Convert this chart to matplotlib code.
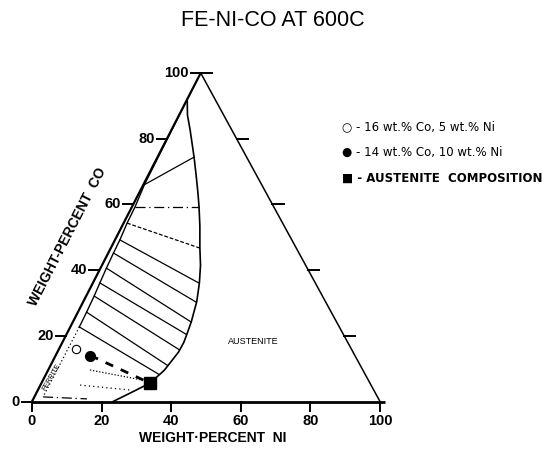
import matplotlib
matplotlib.use("Agg")
import matplotlib.pyplot as plt
import numpy as np

# ---------------- data (wt% Ni, wt% Co) ----------------
title = "FE-NI-CO AT 600C"
tick_values = [0, 20, 40, 60, 80, 100]
right_tick_values = [20, 40, 60, 80, 100]

# austenite (gamma) phase boundary
gamma_ni = [23.3, 27.0, 31.2, 33.4, 34.8, 34.9, 34.5, 34.0, 32.6, 30.6, 28.3, 25.6,
            22.3, 19.3, 16.9, 13.7, 10.5, 5.4, 2.4, 0.0]
gamma_co = [0.0, 2.6, 5.6, 9.5, 15.0, 18.0, 21.0, 24.3, 30.4, 36.1, 41.5, 46.7,
            53.5, 59.2, 63.5, 69.0, 74.4, 82.6, 87.2, 92.0]

# ferrite (alpha) boundary, solid part and dotted part
alpha_ni = [0.0, 0.3, 0.9, 1.0, 1.4, 1.5, 1.7, 2.0, 2.3, 2.5, 2.6]
alpha_co = [92.0, 66.0, 59.2, 54.3, 49.2, 45.2, 40.6, 36.1, 32.1, 27.2, 22.7]
alpha_dot_ni = [2.6, 2.5]
alpha_dot_co = [22.7, 1.4]

# tie lines: alpha end -> gamma end
tie_a_ni = [0.3, 0.9, 1.0, 1.4, 1.5, 1.7, 2.0, 2.3, 2.5, 2.6]
tie_a_co = [66.0, 59.2, 54.3, 49.2, 45.2, 40.6, 36.1, 32.1, 27.2, 22.7]
tie_g_ni = [10.5, 19.3, 25.6, 30.4, 32.4, 34.0, 34.3, 34.8, 33.4, 32.4]
tie_g_co = [74.4, 59.2, 46.7, 36.1, 30.3, 24.2, 20.5, 15.7, 11.1, 8.3]

# short dotted / dash-dot tie lines near Fe corner
low_a_ni = [12.0, 11.4, 2.5]
low_a_co = [9.6, 5.0, 1.4]
low_g_ni = [28.7, 26.5, 15.4]
low_g_co = [6.5, 3.5, 0.8]

# alloys
open_ni, open_co = [5.0], [16.0]
fill_ni, fill_co = [10.0], [14.0]
aust_ni, aust_co = [31.2], [5.6]

legend_texts = ["\u25cb - 16 wt.% Co, 5 wt.% Ni",
                "\u25cf - 14 wt.% Co, 10 wt.% Ni",
                "\u25a0 - AUSTENITE  COMPOSITION"]

# ---------------- drawing ----------------
SKEW = 0.4848  # apex offset of this (non-equilateral) drawing


def xy(ni, co):
    ni = np.asarray(ni, float)
    co = np.asarray(co, float)
    return ni + SKEW * co, co


fig = plt.figure(figsize=(5.42, 4.5), dpi=100)
ax = fig.add_axes([0, 0, 1, 1])
ax.set_xlim(-9.195, 146.55)
ax.set_ylim(-14.76, 122.22)
ax.axis("off")

K = "black"
num_font = dict(family=["Liberation Sans", "DejaVu Sans"], fontweight="bold", fontsize=10.5, color=K)
lab_font = dict(family=["Liberation Sans", "DejaVu Sans"], fontweight="bold", fontsize=10, color=K)

# triangle edges
ax.plot(*xy([0, 0], [0, 100]), color=K, lw=1.6, solid_capstyle="butt")
ax.plot(*xy([0, 100], [100, 0]), color=K, lw=1.1)
ax.plot(*xy([0, 101.5], [0, 0]), color=K, lw=2.0, solid_capstyle="butt")

# ticks and labels
for t in tick_values:
    x0, y0 = xy(t, 0)
    ax.plot([x0, x0], [y0, y0 - 3.0], color=K, lw=1.4)
    ax.text(x0, -6.0, str(t), ha="center", va="center", **num_font)
    xl, yl = xy([-2.9, 0], [t, t])
    ax.plot(xl, yl, color=K, lw=1.4)
    xt, yt = xy(-3.5, t)
    ax.text(float(xt), float(yt), str(t), ha="right", va="center", **num_font)
for t in right_tick_values:
    xr, yr = xy([100 - t, 100 - t + 3.2], [t, t])
    ax.plot(xr, yr, color=K, lw=1.4)

# phase boundaries
ax.plot(*xy(gamma_ni, gamma_co), color=K, lw=1.2)
ax.plot(*xy(alpha_ni, alpha_co), color=K, lw=1.0)
ax.plot(*xy(alpha_dot_ni, alpha_dot_co), color=K, lw=0.9, ls=(0, (1, 2)))

# tie lines
tie_styles = ["-", (0, (8, 3, 1, 3)), (0, (3, 1.5))] + ["-"] * 7
for a_n, a_c, g_n, g_c, st in zip(tie_a_ni, tie_a_co, tie_g_ni, tie_g_co, tie_styles):
    ax.plot(*xy([a_n, g_n], [a_c, g_c]), color=K, lw=0.9, ls=st)
low_styles = [(0, (1, 1.5)), (0, (1, 2.5)), (0, (8, 3, 1, 3))]
for a_n, a_c, g_n, g_c, st in zip(low_a_ni, low_a_co, low_g_ni, low_g_co, low_styles):
    ax.plot(*xy([a_n, g_n], [a_c, g_c]), color=K, lw=0.9, ls=st)

# dashed line from the 14 Co / 10 Ni alloy to austenite composition
ax.plot(*xy([fill_ni[0], aust_ni[0]], [fill_co[0], aust_co[0]]), color=K, lw=2.0,
        ls=(0, (3, 3)))

# alloy markers
ax.plot(*xy(open_ni, open_co), ls="none", marker="o", ms=6, mfc="white", mec=K, mew=0.8)
ax.plot(*xy(fill_ni, fill_co), ls="none", marker="o", ms=7, color=K)
ax.plot(*xy(aust_ni, aust_co), ls="none", marker="s", ms=9, color=K)

# texts
ax.text(69.3, 116.1, title, ha="center", va="center",
        family=["Liberation Sans", "DejaVu Sans"], fontsize=15.5, color=K)
ax.text(52.0, -11.1, "WEIGHT\u00b7PERCENT  NI", ha="center", va="center", **lab_font)
ax.text(10.3, 50.1, "WEIGHT-PERCENT  CO", ha="center", va="center", rotation=62.8,
        rotation_mode="anchor", **lab_font)
ax.text(63.5, 18.4, "AUSTENITE", ha="center", va="center",
        family=["Liberation Sans", "DejaVu Sans"], fontsize=6.5, color=K)
ax.text(5.7, 7.3, "FERRITE", ha="center", va="center", rotation=60, rotation_mode="anchor",
        family=["Liberation Sans", "DejaVu Sans"], fontsize=5, color=K)

for i, s in enumerate(legend_texts):
    ax.text(89.1, 83.6 - 7.8 * i, s, ha="left", va="center",
            family=["Liberation Sans Narrow", "DejaVu Sans"], fontsize=8.5,
            fontweight="bold" if i == 2 else "normal", color=K)

fig.savefig("out.png", dpi=100)
